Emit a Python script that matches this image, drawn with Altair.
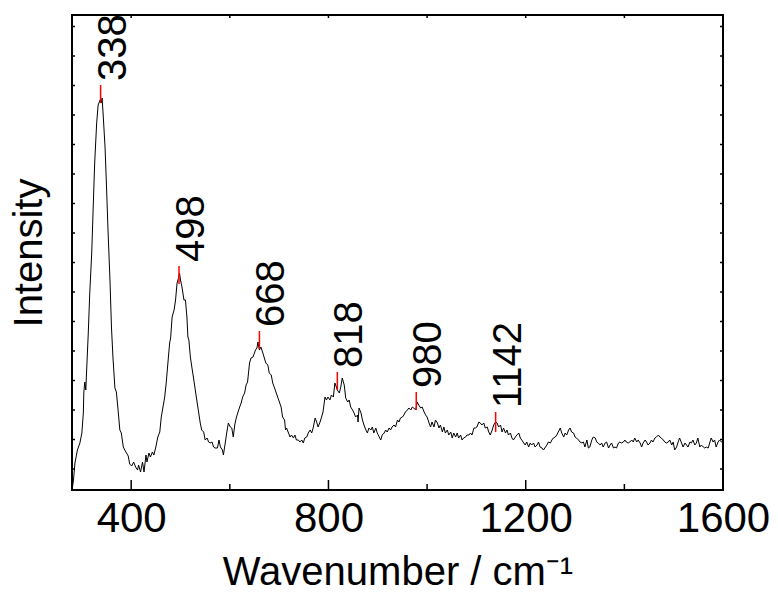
import altair as alt
import pandas as pd

# ---- spectrum (wavenumber in cm-1, intensity in arbitrary units) ----
WN_A = [281, 283, 286, 291, 296, 300, 303, 304, 306, 308,
        310, 313, 316, 320, 323, 326, 330, 333, 337, 339,
        341, 343, 347, 350, 353, 357, 360, 363, 367, 370,
        374, 377, 380, 384, 387, 394, 397, 401, 405, 409,
        413, 415, 419, 423, 426, 430, 432, 436, 439, 443,
        446, 450]
INT_A = [3, 10, 27, 40, 47, 57, 77, 98, 108, 100,
         123, 157, 197, 237, 283, 327, 367, 385, 390, 387,
         392, 377, 343, 303, 260, 210, 163, 133, 102, 98,
         77, 60, 57, 43, 40, 34, 26, 24, 28, 23,
         20, 25, 18, 28, 18, 35, 28, 37, 33, 38,
         35, 43]

WN_B = [454, 458, 461, 468, 471, 475, 478, 480, 483, 487,
        490, 493, 496, 498, 500, 503, 507, 510, 513, 515,
        517, 520, 523, 527, 530, 533, 537, 540, 543, 547,
        550, 554, 557, 560, 564, 567, 570, 575, 578, 581,
        585, 587, 591, 594, 597, 601, 604, 607, 610, 613,
        616, 620, 623, 626, 630, 633, 636, 640, 643, 647,
        650, 652, 655, 657, 660, 663, 667, 670, 673, 677,
        680, 684, 687, 690, 697, 704]
INT_B = [53, 58, 73, 93, 107, 130, 147, 152, 173, 180,
         190, 207, 212, 217, 210, 203, 190, 190, 173, 153,
         150, 133, 123, 110, 100, 90, 77, 67, 60, 58,
         50, 52, 48, 47, 48, 43, 42, 42, 50, 43,
         40, 35, 48, 58, 67, 63, 62, 53, 65, 72,
         77, 83, 87, 93, 97, 105, 108, 127, 132, 133,
         137, 140, 142, 148, 140, 143, 137, 132, 127, 125,
         117, 115, 107, 103, 93, 83]

WN_C = [707, 711, 713, 715, 719, 722, 725, 729, 732, 735,
        739, 742, 746, 749, 752, 756, 759, 763, 766, 769,
        773, 776, 779, 783, 786, 789, 793, 796, 799, 803,
        806, 810, 813, 816, 818, 822, 825, 828, 832, 835,
        839, 842, 845, 849, 852, 855, 859, 860, 862, 866,
        869, 872, 876, 879, 882, 886, 889, 892, 896, 899,
        903, 906, 909, 913, 916, 919, 923, 926, 929, 933,
        936, 940, 943, 946, 950, 953, 956, 960, 963, 967,
        970, 973, 977, 980, 983, 987, 990, 994, 997, 1000]
INT_C = [73, 70, 60, 62, 57, 53, 55, 52, 55, 50,
         50, 48, 50, 47, 52, 53, 57, 60, 57, 62,
         72, 68, 63, 68, 73, 78, 93, 90, 93, 90,
         95, 93, 107, 103, 100, 97, 103, 112, 105, 92,
         88, 90, 83, 80, 77, 73, 75, 68, 82, 77,
         70, 65, 60, 57, 62, 60, 63, 57, 62, 57,
         53, 50, 55, 57, 60, 58, 62, 60, 63, 65,
         63, 70, 68, 72, 73, 75, 78, 80, 82, 80,
         83, 82, 80, 88, 85, 82, 83, 78, 75, 73]

WN_D = [1004, 1007, 1010, 1014, 1017, 1021, 1024, 1027, 1031, 1034,
        1037, 1041, 1044, 1048, 1051, 1054, 1058, 1061, 1064, 1068,
        1071, 1074, 1078, 1081, 1085, 1088, 1091, 1095, 1098, 1101,
        1105, 1108, 1111, 1115, 1118, 1122, 1125, 1128, 1132, 1135,
        1139, 1142, 1145, 1149, 1152, 1155, 1159, 1162, 1165, 1169,
        1172, 1175, 1179, 1182, 1186, 1189, 1192, 1196, 1199, 1202,
        1206, 1209, 1212, 1216, 1219, 1223, 1226, 1229, 1233, 1236,
        1240, 1243, 1246, 1250, 1253, 1256, 1260, 1263, 1266, 1270,
        1273, 1277, 1280, 1283, 1287, 1290, 1293]
INT_D = [67, 63, 68, 63, 70, 67, 62, 65, 58, 63,
         57, 60, 55, 58, 52, 57, 53, 57, 52, 55,
         50, 52, 53, 55, 55, 57, 55, 62, 62, 63,
         68, 67, 65, 67, 62, 63, 58, 55, 60, 65,
         68, 67, 63, 65, 58, 62, 57, 60, 55, 57,
         52, 50, 53, 55, 57, 52, 50, 47, 45, 48,
         43, 47, 45, 47, 43, 45, 48, 43, 42, 40,
         43, 45, 48, 47, 50, 52, 53, 55, 58, 62,
         57, 53, 57, 55, 60, 62, 58]

WN_E = [1297, 1300, 1303, 1307, 1310, 1314, 1317, 1320, 1324, 1327,
        1330, 1334, 1337, 1341, 1344, 1347, 1351, 1354, 1357, 1361,
        1364, 1368, 1371, 1374, 1378, 1381, 1384, 1388, 1391, 1394,
        1398, 1401, 1404, 1408, 1411, 1415, 1418, 1421, 1425, 1428,
        1432, 1435, 1438, 1442, 1445, 1448, 1452, 1455, 1458, 1462,
        1465, 1469, 1472, 1475, 1479, 1482, 1485, 1489, 1492, 1496,
        1499, 1502, 1506, 1509, 1512, 1516, 1519, 1523, 1526, 1529,
        1533, 1536, 1539, 1543, 1546, 1549, 1553, 1556, 1560, 1563,
        1566, 1570, 1573, 1576, 1580, 1583, 1586, 1590, 1593, 1597,
        1600]
INT_E = [57, 53, 52, 50, 48, 47, 48, 43, 50, 42,
         43, 50, 53, 52, 48, 47, 45, 47, 43, 47,
         48, 42, 45, 47, 42, 43, 42, 47, 48, 47,
         48, 50, 48, 47, 48, 50, 48, 52, 48, 50,
         47, 43, 47, 50, 48, 45, 47, 50, 48, 52,
         53, 55, 53, 52, 50, 48, 47, 48, 50, 45,
         48, 40, 43, 48, 52, 47, 43, 47, 45, 43,
         48, 47, 50, 45, 47, 52, 43, 45, 43, 42,
         43, 42, 47, 52, 48, 50, 43, 48, 50, 48,
         47]

WAVENUMBER = WN_A + WN_B + WN_C + WN_D + WN_E
INTENSITY = INT_A + INT_B + INT_C + INT_D + INT_E

# ---- peak markers ----
PEAK_POS = [338, 497, 660, 818, 978, 1139]
PEAK_LABELS = ["338", "498", "668", "818", "980", "1142"]
RED_LO = [387, 206, 141, 100, 80, 58]
RED_HI = [405, 224, 159, 118, 98, 78]

# ---- ticks ----
X_MAJOR = [400, 800, 1200, 1600]
X_MINOR = [600, 1000, 1400]
X_TOP = [400, 600, 800, 1000, 1200, 1400]
Y_TICKS = [21, 50.5, 80, 109.5, 139, 168.5, 198, 227.5, 257, 286.5,
           316, 345.5, 375, 404.5, 434, 463.5]

FONT = "Liberation Sans, Arial, sans-serif"
W, H = 651, 475

spec = pd.DataFrame({"wn": WAVENUMBER, "intensity": INTENSITY})
peaks = pd.DataFrame({"pos": PEAK_POS, "label": PEAK_LABELS, "lo": RED_LO, "hi": RED_HI})

xscale = alt.Scale(domain=[280, 1600], nice=False, zero=False)
yscale = alt.Scale(domain=[0, 475], nice=False, zero=False)

xaxis = alt.Axis(values=X_MAJOR, format="d", ticks=False, domain=False, grid=False,
                 labelFontSize=42, labelFont=FONT, labelColor="black",
                 labelPadding=8, labelFlush=False, labelOverlap=False,
                 title="Wavenumber / cm\u207b\u00b9", titleFont=FONT, titleFontSize=40,
                 titleFontWeight="normal", titleColor="black", titlePadding=13)
yaxis = alt.Axis(labels=False, ticks=False, domain=False, grid=False,
                 title="Intensity", titleFont=FONT, titleFontSize=40,
                 titleFontWeight="normal", titleColor="black", titlePadding=23)

line = alt.Chart(spec).mark_line(color="black", strokeWidth=1).encode(
    x=alt.X("wn:Q", scale=xscale, axis=xaxis),
    y=alt.Y("intensity:Q", scale=yscale, axis=yaxis),
    order="wn:Q",
)

red = alt.Chart(peaks).mark_rule(color="#ff0000", strokeWidth=1.5).encode(
    x=alt.X("pos:Q", scale=xscale, axis=xaxis),
    y=alt.Y("lo:Q", scale=yscale, axis=yaxis),
    y2="hi:Q",
)

labels = alt.Chart(peaks).mark_text(
    angle=270, align="left", baseline="top", fontSize=40, font=FONT,
    color="black", xOffset=-7, yOffset=-4,
).encode(
    x=alt.X("pos:Q", scale=xscale, axis=xaxis),
    y=alt.Y("hi:Q", scale=yscale, axis=yaxis),
    text="label:N",
)

def xticks(vals, y0, y1):
    return alt.Chart(pd.DataFrame({"v": vals})).mark_rule(color="black", strokeWidth=1.5).encode(
        x=alt.X("v:Q", scale=xscale, axis=xaxis),
        y=alt.value(y0), y2=alt.value(y1),
    )

def yticks(x0, x1):
    return alt.Chart(pd.DataFrame({"v": Y_TICKS})).mark_rule(color="black", strokeWidth=1.5).encode(
        y=alt.Y("v:Q", scale=yscale, axis=yaxis),
        x=alt.value(x0), x2=alt.value(x1),
    )

chart = alt.layer(
    line,
    xticks(X_MAJOR, H, H - 10),
    xticks(X_MINOR, H, H - 6),
    xticks(X_TOP, 0, 3),
    yticks(0, 3),
    yticks(W - 3, W),
    red,
    labels,
).properties(
    width=W, height=H,
    padding={"left": 64, "top": 7, "right": 47, "bottom": 98},
    autosize=alt.AutoSizeParams(type="none"),
).configure_view(stroke="black", strokeWidth=2)

chart.save("out.html", embed_options={"renderer": "svg", "actions": False})
